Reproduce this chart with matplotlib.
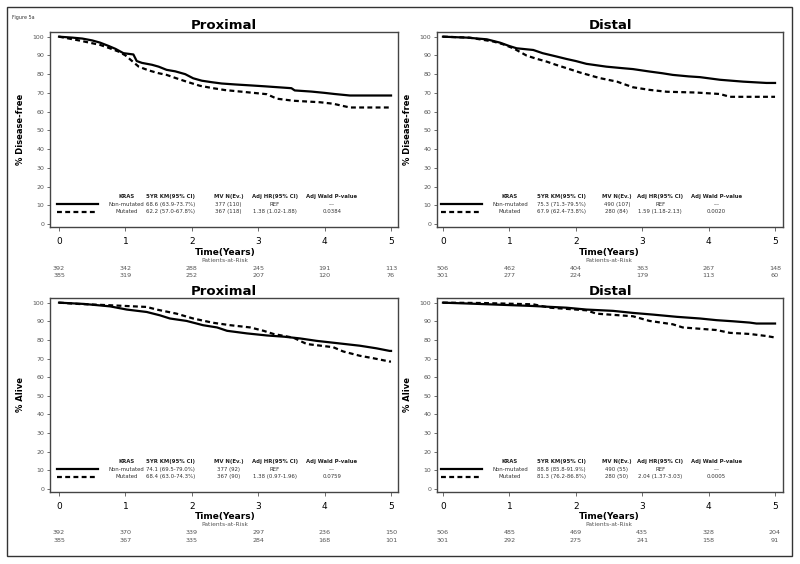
import matplotlib
matplotlib.use("Agg")
import matplotlib.pyplot as plt
import matplotlib.patches as mpatches

# --- datos ---
years = [0, 1, 2, 3, 4, 5]
grupos = ["Non-mutated", "Mutated"]
cabecera = ["KRAS", "5YR KM(95% CI)", "MV N(Ev.)", "Adj HR(95% CI)", "Adj Wald P-value"]

# Proximal, supervivencia libre de enfermedad
prox_dfs_nm_t = [0, 0.2, 0.35, 0.5, 0.62, 0.75, 0.85, 0.97, 1.12, 1.17, 1.25, 1.4, 1.5, 1.62, 1.75, 1.9, 2.02,
                 2.15, 2.3, 2.45, 2.65, 2.88, 3.1, 3.3, 3.5, 3.55, 3.8, 4.0, 4.15, 4.38, 4.6, 5.0]
prox_dfs_nm_s = [100, 99.5, 99, 98, 96.8, 95, 93.5, 91.2, 90.5, 87, 86, 85, 84, 82.3, 81.5, 80, 77.8,
                 76.5, 75.7, 75, 74.5, 74, 73.5, 73, 72.5, 71.3, 70.7, 70, 69.4, 68.6, 68.6, 68.6]
prox_dfs_mu_t = [0, 0.15, 0.3, 0.5, 0.62, 0.75, 0.9, 1.0, 1.1, 1.2, 1.35, 1.5, 1.62, 1.75, 1.92, 2.12, 2.32,
                 2.5, 2.73, 3.13, 3.28, 3.53, 3.93, 4.13, 4.38, 5.0]
prox_dfs_mu_s = [100, 99, 98, 96.5, 95.6, 94, 92, 90, 87, 84, 82, 80.5, 79.6, 78, 76, 73.8, 72.5,
                 71.5, 70.7, 69.3, 66.9, 65.8, 65, 64.2, 62.2, 62.2]

# Distal, supervivencia libre de enfermedad
dist_dfs_nm_t = [0, 0.36, 0.66, 0.86, 1.0, 1.11, 1.36, 1.5, 1.7, 1.86, 2.0, 2.16, 2.46, 2.7, 2.86, 3.11,
                 3.3, 3.46, 3.7, 3.87, 4.17, 4.52, 4.87, 5.0]
dist_dfs_nm_s = [100, 99.5, 98.6, 96.8, 95, 93.8, 92.9, 91.2, 89.5, 88.1, 87, 85.5, 84, 83.2, 82.7, 81.4,
                 80.5, 79.6, 78.8, 78.4, 77, 76, 75.3, 75.3]
dist_dfs_mu_t = [0, 0.4, 0.76, 0.9, 1.06, 1.26, 1.4, 1.56, 1.7, 1.86, 2.06, 2.2, 2.36, 2.62, 2.86, 3.11,
                 3.37, 3.8, 4.17, 4.32, 5.0]
dist_dfs_mu_s = [100, 99.5, 97.4, 96, 93.8, 89.9, 88.3, 86.7, 85, 83.2, 80.9, 79.5, 77.9, 76, 73, 71.6,
                 70.6, 70.2, 69.4, 67.9, 67.9]

# Proximal, supervivencia global
prox_os_nm_t = [0, 0.38, 0.77, 1.02, 1.32, 1.52, 1.67, 1.92, 2.17, 2.38, 2.53, 2.83, 3.13, 3.4, 3.63,
                3.88, 4.13, 4.53, 4.78, 4.98, 5.0]
prox_os_nm_s = [100, 99.3, 98, 96.3, 95, 93.2, 91.5, 90.2, 87.9, 86.7, 84.9, 83.5, 82.4, 81.7, 80.8,
                79.5, 78.5, 76.9, 75.5, 74.1, 74.1]
prox_os_mu_t = [0, 0.3, 0.77, 1.32, 1.47, 1.77, 2.02, 2.32, 2.58, 2.88, 3.08, 3.23, 3.53, 3.73, 4.13,
                4.28, 4.53, 4.73, 4.98, 5.0]
prox_os_mu_s = [100, 99.3, 98.6, 97.7, 96.3, 94.1, 91.5, 89.2, 87.9, 86.7, 84.9, 83.2, 81.2, 77.8, 76.1,
                73.8, 71.5, 70.2, 68.4, 68.4]

# Distal, supervivencia global
dist_os_nm_t = [0, 0.4, 1.36, 1.86, 2.16, 2.56, 2.86, 3.16, 3.52, 3.87, 4.12, 4.37, 4.62, 4.72, 5.0]
dist_os_nm_s = [100, 99.5, 98.2, 97.3, 96.3, 95.6, 94.5, 93.6, 92.4, 91.5, 90.6, 90, 89.3, 88.8, 88.8]
dist_os_mu_t = [0, 0.6, 1.36, 1.61, 2.16, 2.31, 2.86, 3.11, 3.46, 3.61, 4.12, 4.32, 4.62, 4.87, 5.0]
dist_os_mu_s = [100, 99.8, 99.1, 97.3, 95.9, 94.1, 92.7, 90.2, 88.4, 86.7, 85.3, 83.8, 83.2, 82.1, 81.3]

# tablas de cada panel
prox_dfs_tabla = [["68.6 (63.9-73.7%)", "377 (110)", "REF", "---"],
                  ["62.2 (57.0-67.8%)", "367 (118)", "1.38 (1.02-1.88)", "0.0384"]]
dist_dfs_tabla = [["75.3 (71.3-79.5%)", "490 (107)", "REF", "---"],
                  ["67.9 (62.4-73.8%)", "280 (84)", "1.59 (1.18-2.13)", "0.0020"]]
prox_os_tabla = [["74.1 (69.5-79.0%)", "377 (92)", "REF", "---"],
                 ["68.4 (63.0-74.3%)", "367 (90)", "1.38 (0.97-1.96)", "0.0759"]]
dist_os_tabla = [["88.8 (85.8-91.9%)", "490 (55)", "REF", "---"],
                 ["81.3 (76.2-86.8%)", "280 (50)", "2.04 (1.37-3.03)", "0.0005"]]

# pacientes en riesgo
prox_dfs_riesgo = [[392, 342, 288, 245, 191, 113], [385, 319, 252, 207, 120, 76]]
dist_dfs_riesgo = [[506, 462, 404, 363, 267, 148], [301, 277, 224, 179, 113, 60]]
prox_os_riesgo = [[392, 370, 339, 297, 236, 150], [385, 367, 335, 284, 168, 101]]
dist_os_riesgo = [[506, 485, 469, 435, 328, 204], [301, 292, 275, 241, 158, 91]]

paneles = [
    ("Proximal", "% Disease-free", prox_dfs_nm_t, prox_dfs_nm_s, prox_dfs_mu_t, prox_dfs_mu_s, prox_dfs_tabla, prox_dfs_riesgo),
    ("Distal", "% Disease-free", dist_dfs_nm_t, dist_dfs_nm_s, dist_dfs_mu_t, dist_dfs_mu_s, dist_dfs_tabla, dist_dfs_riesgo),
    ("Proximal", "% Alive", prox_os_nm_t, prox_os_nm_s, prox_os_mu_t, prox_os_mu_s, prox_os_tabla, prox_os_riesgo),
    ("Distal", "% Alive", dist_os_nm_t, dist_os_nm_s, dist_os_mu_t, dist_os_mu_s, dist_os_tabla, dist_os_riesgo),
]

# --- layout (pixeles de una figura de 800x564) ---
W, H = 800, 564
cajas = [(50, 32, 398, 227), (437, 32, 783, 227), (50, 298, 398, 492), (437, 298, 783, 492)]
xlims = [(-0.136, 5.105), (-0.09, 5.12), (-0.136, 5.105), (-0.09, 5.12)]
col_izq = [1.02, 1.68, 2.55, 3.25, 4.11]
col_der = [1.01, 1.78, 2.62, 3.27, 4.12]
gris = "#555555"
fs_tabla = 3.9

fig = plt.figure(figsize=(8, 5.64), dpi=100)
fig.patches.append(mpatches.Rectangle((7 / W, 1 - 556 / H), 785 / W, 549 / H, transform=fig.transFigure,
                                      fill=False, edgecolor="#333333", linewidth=1.0))
fig.text(12 / W, 1 - 17 / H, "Figure 5a", fontsize=3.5, color="#333333", va="center")

for i, (titulo, ylab, t1, s1, t2, s2, tabla, riesgo) in enumerate(paneles):
    x0, y0, x1, y1 = cajas[i]
    ax = fig.add_axes([x0 / W, 1 - y1 / H, (x1 - x0) / W, (y1 - y0) / H])
    ax.plot(t1, s1, color="black", linewidth=1.6)
    ax.plot(t2, s2, color="black", linewidth=1.6, dashes=(2.2, 1.5))
    ax.set_xlim(*xlims[i])
    ax.set_ylim(-1.6, 102.5)
    ax.set_xticks(years)
    ax.set_yticks(range(0, 101, 10))
    ax.tick_params(axis="y", labelsize=4.5, labelcolor=gris, length=2.5, width=0.6, pad=1.5, color=gris)
    ax.tick_params(axis="x", labelsize=6.5, labelcolor="black", length=3, width=0.6, pad=4, color=gris)
    for sp in ax.spines.values():
        sp.set_color("#444444")
        sp.set_linewidth(1.0)
    ax.set_title(titulo, fontsize=9.5, fontweight="bold", pad=2.5)
    ax.set_ylabel(ylab, fontsize=6, fontweight="bold")
    ax.yaxis.set_label_coords(-0.072, 0.5)

    # leyenda en forma de tabla
    cols = col_izq if i % 2 == 0 else col_der
    for c, h in zip(cols, cabecera):
        ax.text(c, 14.5, h, fontsize=fs_tabla, fontweight="bold", ha="center", va="center", color="#222222")
    ax.plot([-0.03, 0.59], [10.5, 10.5], color="black", linewidth=1.6)
    ax.plot([-0.03, 0.59], [6.5, 6.5], color="black", linewidth=1.6, dashes=(2.2, 1.5))
    for fila, yy, g in zip(tabla, [10.5, 6.5], grupos):
        ax.text(cols[0], yy, g, fontsize=fs_tabla, ha="center", va="center", color="#333333")
        for c, v in zip(cols[1:], fila):
            ax.text(c, yy, v, fontsize=fs_tabla, ha="center", va="center", color="#333333")

    # eje x y pacientes en riesgo
    tr = ax.get_xaxis_transform()
    alto = y1 - y0
    ax.text(2.5, -25 / alto, "Time(Years)", transform=tr, fontsize=6.5, fontweight="bold", ha="center", va="center")
    ax.text(2.5, -33 / alto, "Patients-at-Risk", transform=tr, fontsize=4.3, color=gris, ha="center", va="center")
    for fila, dy in zip(riesgo, [41, 48]):
        for x, n in zip(years, fila):
            ax.text(x, -dy / alto, str(n), transform=tr, fontsize=4.6, color=gris, ha="center", va="center")

plt.savefig("out.png", dpi=100)
